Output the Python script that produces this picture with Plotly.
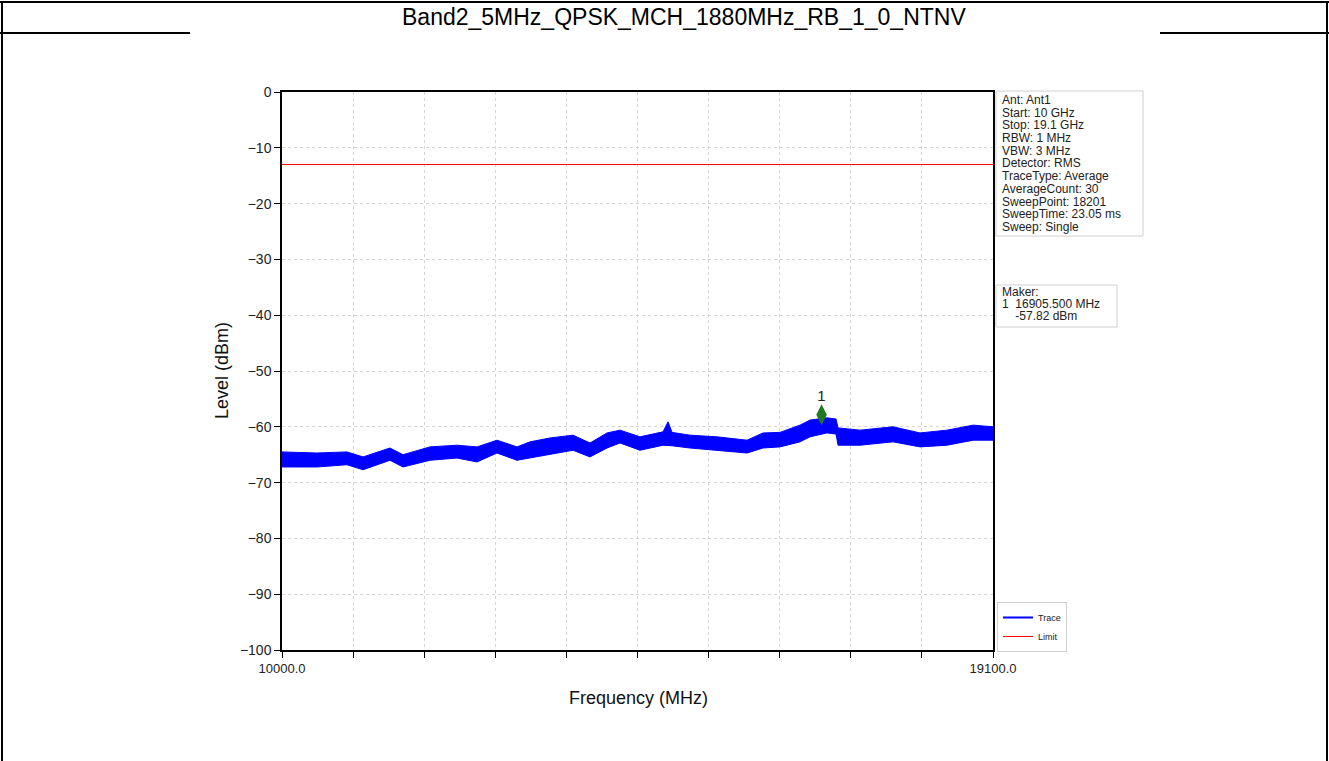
import plotly.graph_objects as go

# spectrum envelope (MHz, upper / lower edge of the noisy trace in dBm)
freq_mhz = [10000, 10448, 10832, 11037, 11382, 11549, 11894, 12240, 12496, 12752,
            13008, 13174, 13430, 13725, 13942, 14160, 14326, 14582, 14877, 14941,
            14992, 15222, 15568, 15952, 16157, 16374, 16630, 16758, 16976, 17091,
            17117, 17398, 17821, 18166, 18512, 18845, 19100]
trace_upper = [-64.5, -64.7, -64.5, -65.4, -63.8, -65.0, -63.6, -63.3, -63.6, -62.4,
               -63.6, -62.7, -62.0, -61.5, -62.9, -61.1, -60.6, -61.8, -60.9, -59.1,
               -61.0, -61.5, -61.8, -62.4, -61.1, -61.0, -59.7, -58.8, -58.4, -58.6,
               -60.2, -60.6, -60.0, -61.1, -60.6, -59.7, -60.0]
trace_lower = [-67.2, -67.2, -66.8, -67.7, -66.0, -67.2, -66.0, -65.6, -66.3, -64.7,
               -66.0, -65.6, -65.0, -64.2, -65.4, -63.8, -62.9, -64.2, -63.3, -63.3,
               -63.4, -63.8, -64.2, -64.7, -63.8, -63.6, -62.7, -61.8, -61.1, -61.3,
               -63.3, -63.3, -62.7, -63.6, -63.3, -62.4, -62.4]

limit_level = -13
start_mhz, stop_mhz = 10000, 19100
marker_freq = 16905.5
marker_level = -57.82

title_text = "Band2_5MHz_QPSK_MCH_1880MHz_RB_1_0_NTNV"
info_lines = ["Ant: Ant1", "Start: 10 GHz", "Stop: 19.1 GHz", "RBW: 1 MHz", "VBW: 3 MHz",
              "Detector: RMS", "TraceType: Average", "AverageCount: 30",
              "SweepPoint: 18201", "SweepTime: 23.05 ms", "Sweep: Single"]
maker_lines = ["Maker:", "1  16905.500 MHz", "    -57.82 dBm"]

W, H = 1329, 761
L, R, T, B = 282, 993, 92, 650  # plot area in pixels


def px(x):
    return (x - L) / (R - L)


def py(y):
    return (B - y) / (B - T)


FONT = "Liberation Sans, Arial, sans-serif"

fig = go.Figure()
fig.add_trace(go.Scatter(x=freq_mhz, y=trace_upper, mode="lines",
                         line=dict(color="#0000ff", width=1), showlegend=False,
                         hoverinfo="skip"))
fig.add_trace(go.Scatter(x=freq_mhz, y=trace_lower, mode="lines", fill="tonexty",
                         fillcolor="#0000ff", line=dict(color="#0000ff", width=1),
                         showlegend=False, hoverinfo="skip"))
fig.add_trace(go.Scatter(x=[None], y=[None], mode="lines", name="Trace",
                         line=dict(color="#0000ff", width=2)))
fig.add_trace(go.Scatter(x=[start_mhz, stop_mhz], y=[limit_level, limit_level],
                         mode="lines", name="Limit", line=dict(color="#ff0000", width=1)))
fig.add_trace(go.Scatter(x=[marker_freq], y=[marker_level], mode="markers+text",
                         text=["1"], textposition="top center",
                         textfont=dict(size=15, color="#222222", family=FONT),
                         marker=dict(symbol="diamond-tall", size=15, color="#1f7a1f"),
                         showlegend=False))

step = (stop_mhz - start_mhz) / 10
xticks = [start_mhz + i * step for i in range(11)]
xtext = ["%.1f" % v if i in (0, 10) else "" for i, v in enumerate(xticks)]

fig.update_xaxes(range=[start_mhz, stop_mhz], tickvals=xticks, ticktext=xtext,
                 showline=True, linecolor="black", linewidth=1.5, mirror=True,
                 ticks="outside", ticklen=6, tickcolor="black",
                 showgrid=True, gridcolor="#d4d4d4", griddash="dot", zeroline=False,
                 tickfont=dict(size=13, color="#222222", family=FONT))
fig.update_yaxes(range=[-100, 0], dtick=10, showline=True, linecolor="black",
                 linewidth=1.5, mirror=True, ticks="outside", ticklen=6,
                 tickcolor="black", showgrid=True, gridcolor="#d4d4d4", griddash="dot",
                 zeroline=False, tickfont=dict(size=14, color="#222222", family=FONT))

annotations = [
    dict(text=title_text, x=px(684), y=py(17), font=dict(size=23, color="black")),
    dict(text="Frequency (MHz)", x=px(638), y=py(698), font=dict(size=18, color="#111111")),
    dict(text="Level (dBm)", x=px(222), y=py(371), textangle=-90,
         font=dict(size=18, color="#111111")),
]
for i, s in enumerate(info_lines):
    annotations.append(dict(text=s, x=px(1000), y=py(100 + 12.7 * i), xanchor="left",
                            font=dict(size=12, color="#222222")))
for i, s in enumerate(maker_lines):
    annotations.append(dict(text=s.replace(" ", "&nbsp;"), x=px(1000), y=py(292 + 12 * i),
                            xanchor="left", font=dict(size=12, color="#222222")))
for a in annotations:
    a.update(xref="paper", yref="paper", showarrow=False)
    a.setdefault("xanchor", "center")
    a.setdefault("yanchor", "middle")
    a["font"]["family"] = FONT

shapes = [
    # document frame around the chart
    dict(x0=px(2), x1=px(2), y0=py(2), y1=py(761)),
    dict(x0=px(1327), x1=px(1327), y0=py(2), y1=py(761)),
    dict(x0=px(0), x1=px(1329), y0=py(2), y1=py(2)),
    dict(x0=px(0), x1=px(190), y0=py(33), y1=py(33)),
    dict(x0=px(1160), x1=px(1329), y0=py(33), y1=py(33)),
    # info boxes
    dict(x0=px(996), x1=px(1143), y0=py(91), y1=py(236), color="#d0d0d0", w=1),
    dict(x0=px(996), x1=px(1117), y0=py(285), y1=py(327), color="#d0d0d0", w=1),
]
shape_objs = []
for s in shapes:
    kind = "rect" if "color" in s else "line"
    shape_objs.append(dict(type=kind, xref="paper", yref="paper",
                           x0=s["x0"], x1=s["x1"], y0=s["y0"], y1=s["y1"],
                           line=dict(color=s.get("color", "black"), width=s.get("w", 2))))

fig.update_layout(
    width=W, height=H,
    margin=dict(l=L, r=W - R, t=T, b=H - B),
    paper_bgcolor="white", plot_bgcolor="white",
    font=dict(family=FONT),
    annotations=annotations, shapes=shape_objs,
    legend=dict(x=px(997), y=py(652), xanchor="left", yanchor="bottom",
                traceorder="normal",
                font=dict(size=9, color="#222222"), bordercolor="#d0d0d0",
                borderwidth=1, itemwidth=30, tracegroupgap=0),
)

fig.write_html("out.html", config={"displayModeBar": False},
               post_script="document.body.style.margin='0';")
